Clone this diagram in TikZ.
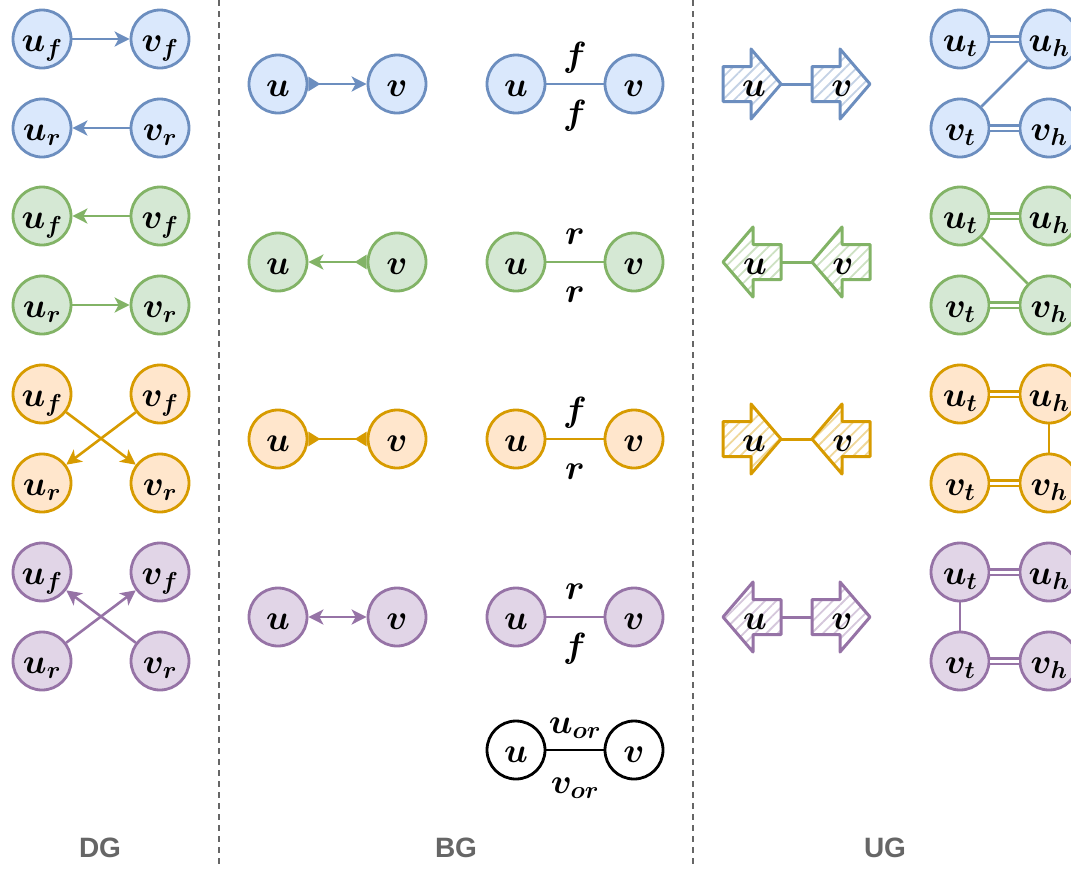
\RequirePackage{fix-cm}
\documentclass[tikz,border=0pt]{standalone}
\usepackage{fontspec}
\newfontfamily\capfont{Liberation Sans}
\usetikzlibrary{arrows.meta,patterns.meta}
\definecolor{bF}{HTML}{DAE8FC}\definecolor{bD}{HTML}{6C8EBF}
\definecolor{gF}{HTML}{D5E8D4}\definecolor{gD}{HTML}{82B366}
\definecolor{oF}{HTML}{FFE6CC}\definecolor{oD}{HTML}{D79B00}
\definecolor{pF}{HTML}{E1D5E7}\definecolor{pD}{HTML}{9673A6}
\definecolor{capgray}{HTML}{666666}
\tikzset{
  vtx/.style={circle, inner sep=0pt, minimum size=58pt, line width=2.8pt, text height=24pt, text depth=0pt, font=\fontsize{35}{40}\selectfont\boldmath},
  cB/.style={vtx, draw=bD, fill=bF},
  cG/.style={vtx, draw=gD, fill=gF},
  cO/.style={vtx, draw=oD, fill=oF},
  cP/.style={vtx, draw=pD, fill=pF},
  cK/.style={vtx, draw=black, fill=white},
  lab/.style={font=\fontsize{35}{40}\selectfont\boldmath, inner sep=0pt, anchor=base},
  ed/.style={line width=2.6pt},
  tS/.tip={Stealth[length=15pt,width=15pt,inset=4pt]},
  tT/.tip={Triangle[reversed,length=12pt,width=14pt]},
  dbl/.style={double=white, double distance=3pt, line width=2.6pt},
  sepline/.style={draw=capgray, line width=2.2pt, dash pattern=on 6pt off 5pt},
  captext/.style={font=\capfont\bfseries\fontsize{28}{32}\selectfont, text=capgray},
  blk/.style={line width=3pt, line join=round, pattern={Lines[angle=45,distance=8pt,line width=1.8pt]}},
  rarr/.pic={\path[pic actions] (-29,-17.5) -- (-1,-17.5) -- (-1,-35) -- (29,0) -- (-1,35) -- (-1,17.5) -- (-29,17.5) -- cycle;
    \coordinate (-tip) at (29,0); \coordinate (-tail) at (-29,0);},
  larr/.pic={\path[pic actions] (29,-17.5) -- (1,-17.5) -- (1,-35) -- (-29,0) -- (1,35) -- (1,17.5) -- (29,17.5) -- cycle;
    \coordinate (-tip) at (-29,0); \coordinate (-tail) at (29,0);},
  albl/.style={font=\fontsize{35}{40}\selectfont\boldmath, inner sep=0pt, text height=24pt, text depth=0pt},
}
\begin{document}
\begin{tikzpicture}[x=1pt,y=-1pt]
\useasboundingbox (0,0) rectangle (1071,868);
% separators
\coordinate (s1t) at (219,0); \coordinate (s1b) at (219,868);
\coordinate (s2t) at (693,0); \coordinate (s2b) at (693,868);
\draw[sepline] (s1t) -- (s1b);
\draw[sepline] (s2t) -- (s2b);
% captions
\node[captext] (capDG) at (100,848) {DG};
\node[captext] (capBG) at (456,848) {BG};
\node[captext] (capUG) at (885,848) {UG};

% ---------------- DG ----------------
\node[cB] (d1uf) at (42,39) {$u_f$};  \node[cB] (d1vf) at (160,39) {$v_f$};
\node[cB] (d1ur) at (42,128) {$u_r$}; \node[cB] (d1vr) at (160,128) {$v_r$};
\draw[ed, draw=bD, fill=bD, -tS] (d1uf) -- (d1vf);
\draw[ed, draw=bD, fill=bD, -tS] (d1vr) -- (d1ur);

\node[cG] (d2uf) at (42,216) {$u_f$};  \node[cG] (d2vf) at (160,216) {$v_f$};
\node[cG] (d2ur) at (42,305) {$u_r$}; \node[cG] (d2vr) at (160,305) {$v_r$};
\draw[ed, draw=gD, fill=gD, -tS] (d2vf) -- (d2uf);
\draw[ed, draw=gD, fill=gD, -tS] (d2ur) -- (d2vr);

\node[cO] (d3uf) at (42,394) {$u_f$};  \node[cO] (d3vf) at (160,394) {$v_f$};
\node[cO] (d3ur) at (42,483) {$u_r$}; \node[cO] (d3vr) at (160,483) {$v_r$};
\draw[ed, draw=oD, fill=oD, -tS] (d3uf) -- (d3vr);
\draw[ed, draw=oD, fill=oD, -tS] (d3vf) -- (d3ur);

\node[cP] (d4uf) at (42,572) {$u_f$};  \node[cP] (d4vf) at (160,572) {$v_f$};
\node[cP] (d4ur) at (42,661) {$u_r$}; \node[cP] (d4vr) at (160,661) {$v_r$};
\draw[ed, draw=pD, fill=pD, -tS] (d4ur) -- (d4vf);
\draw[ed, draw=pD, fill=pD, -tS] (d4vr) -- (d4uf);

% ---------------- BG (arrows) ----------------
\node[cB] (b1u) at (278,84) {$u$};  \node[cB] (b1v) at (397,84) {$v$};
\draw[ed, draw=bD, fill=bD, tT-tS] (b1u) -- (b1v);
\node[cG] (b2u) at (278,262) {$u$}; \node[cG] (b2v) at (397,262) {$v$};
\draw[ed, draw=gD, fill=gD, tT-tS] (b2v) -- (b2u);
\node[cO] (b3u) at (278,439) {$u$}; \node[cO] (b3v) at (397,439) {$v$};
\draw[ed, draw=oD, fill=oD, tT-tT] (b3u) -- (b3v);
\node[cP] (b4u) at (278,617) {$u$}; \node[cP] (b4v) at (397,617) {$v$};
\draw[ed, draw=pD, fill=pD, tS-tS] (b4u) -- (b4v);

% ---------------- BG (labels) ----------------
\node[cB] (c1u) at (516,84) {$u$};  \node[cB] (c1v) at (634,84) {$v$};
\draw[ed, draw=bD] (c1u) -- node[lab, yshift=18pt] {$f$} node[lab, yshift=-40pt] {$f$} (c1v);
\node[cG] (c2u) at (516,262) {$u$}; \node[cG] (c2v) at (634,262) {$v$};
\draw[ed, draw=gD] (c2u) -- node[lab, yshift=18pt] {$r$} node[lab, yshift=-40pt] {$r$} (c2v);
\node[cO] (c3u) at (516,439) {$u$}; \node[cO] (c3v) at (634,439) {$v$};
\draw[ed, draw=oD] (c3u) -- node[lab, yshift=18pt] {$f$} node[lab, yshift=-40pt] {$r$} (c3v);
\node[cP] (c4u) at (516,617) {$u$}; \node[cP] (c4v) at (634,617) {$v$};
\draw[ed, draw=pD] (c4u) -- node[lab, yshift=18pt] {$r$} node[lab, yshift=-40pt] {$f$} (c4v);
\node[cK] (c5u) at (516,750) {$u$}; \node[cK] (c5v) at (634,750) {$v$};
\draw[ed, draw=black] (c5u) -- node[lab, yshift=17pt] {$u_{or}$} node[lab, yshift=-43pt] {$v_{or}$} (c5v);

% ---------------- UG (block arrows) ----------------
\pic[blk, draw=bD, pattern color=bD!40] (a1u) at (752,84) {rarr};
\pic[blk, draw=bD, pattern color=bD!40] (a1v) at (841,84) {rarr};
\node[albl] (a1ul) at (754,84) {$u$}; \node[albl] (a1vl) at (842,84) {$v$};
\draw[ed, line width=3pt, draw=bD] (a1u-tip) -- (a1v-tail);

\pic[blk, draw=gD, pattern color=gD!40] (a2u) at (752,262) {larr};
\pic[blk, draw=gD, pattern color=gD!40] (a2v) at (841,262) {larr};
\node[albl] (a2ul) at (755,262) {$u$}; \node[albl] (a2vl) at (843,262) {$v$};
\draw[ed, line width=3pt, draw=gD] (a2u-tail) -- (a2v-tip);

\pic[blk, draw=oD, pattern color=oD!40] (a3u) at (752,439) {rarr};
\pic[blk, draw=oD, pattern color=oD!40] (a3v) at (841,439) {larr};
\node[albl] (a3ul) at (754,439) {$u$}; \node[albl] (a3vl) at (843,439) {$v$};
\draw[ed, line width=3pt, draw=oD] (a3u-tip) -- (a3v-tip);

\pic[blk, draw=pD, pattern color=pD!40] (a4u) at (752,617) {larr};
\pic[blk, draw=pD, pattern color=pD!40] (a4v) at (841,617) {rarr};
\node[albl] (a4ul) at (755,617) {$u$}; \node[albl] (a4vl) at (842,617) {$v$};
\draw[ed, line width=3pt, draw=pD] (a4u-tail) -- (a4v-tail);

% ---------------- UG (split graphs) ----------------
\node[cB] (g1ut) at (960,39) {$u_t$};  \node[cB] (g1uh) at (1049,39) {$u_h$};
\node[cB] (g1vt) at (960,128) {$v_t$}; \node[cB] (g1vh) at (1049,128) {$v_h$};
\draw[dbl, draw=bD] (g1ut) -- (g1uh);
\draw[dbl, draw=bD] (g1vt) -- (g1vh);
\draw[ed, draw=bD] (g1uh) -- (g1vt);

\node[cG] (g2ut) at (960,216) {$u_t$};  \node[cG] (g2uh) at (1049,216) {$u_h$};
\node[cG] (g2vt) at (960,305) {$v_t$}; \node[cG] (g2vh) at (1049,305) {$v_h$};
\draw[dbl, draw=gD] (g2ut) -- (g2uh);
\draw[dbl, draw=gD] (g2vt) -- (g2vh);
\draw[ed, draw=gD] (g2ut) -- (g2vh);

\node[cO] (g3ut) at (960,394) {$u_t$};  \node[cO] (g3uh) at (1049,394) {$u_h$};
\node[cO] (g3vt) at (960,483) {$v_t$}; \node[cO] (g3vh) at (1049,483) {$v_h$};
\draw[dbl, draw=oD] (g3ut) -- (g3uh);
\draw[dbl, draw=oD] (g3vt) -- (g3vh);
\draw[ed, draw=oD] (g3uh) -- (g3vh);

\node[cP] (g4ut) at (960,572) {$u_t$};  \node[cP] (g4uh) at (1049,572) {$u_h$};
\node[cP] (g4vt) at (960,661) {$v_t$}; \node[cP] (g4vh) at (1049,661) {$v_h$};
\draw[dbl, draw=pD] (g4ut) -- (g4uh);
\draw[dbl, draw=pD] (g4vt) -- (g4vh);
\draw[ed, draw=pD] (g4ut) -- (g4vt);
\end{tikzpicture}
\end{document}
